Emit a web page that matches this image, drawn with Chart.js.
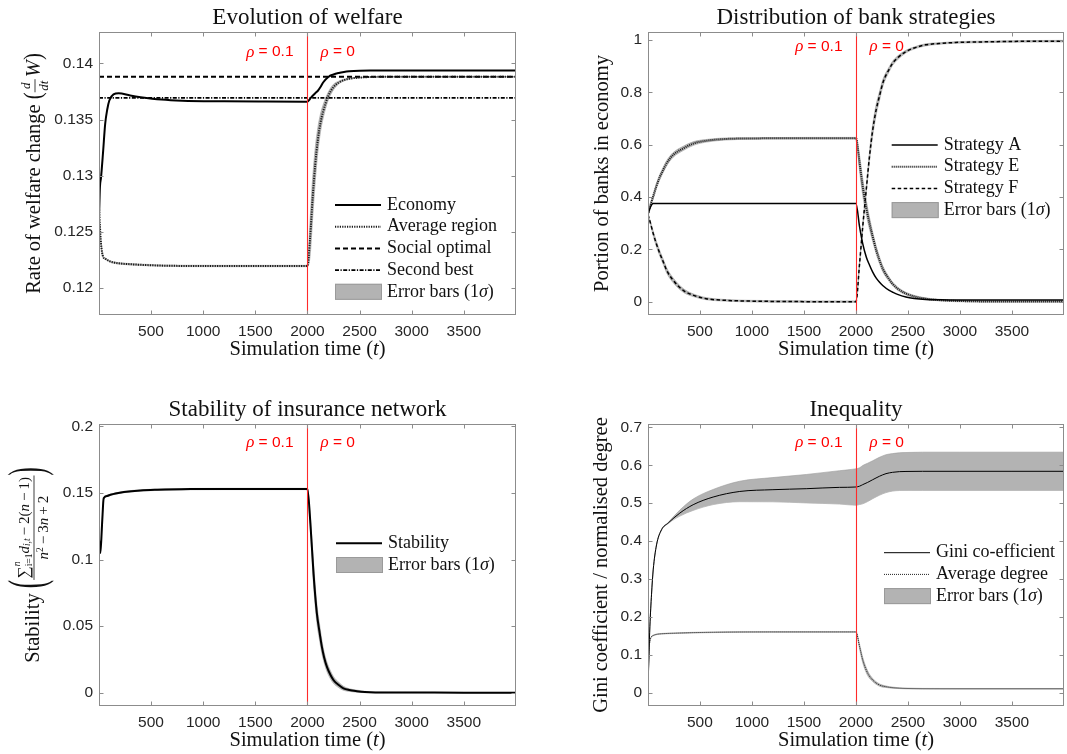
<!DOCTYPE html>
<html>
<head>
<meta charset="utf-8">
<title>Simulation results</title>
<script src="https://cdn.jsdelivr.net/npm/chart.js@4/dist/chart.umd.min.js"></script>
<style>
  html, body { margin: 0; padding: 0; background: #fff; }
  #page { position: relative; width: 1067px; height: 754px; overflow: hidden; }
  #page canvas { position: absolute; }
</style>
</head>
<body>
<div id="page">
  <canvas id="welfare" width="540" height="377" style="left:0;top:0"></canvas>
  <canvas id="strategies" width="527" height="377" style="left:540px;top:0"></canvas>
  <canvas id="stability" width="540" height="377" style="left:0;top:377px"></canvas>
  <canvas id="inequality" width="527" height="377" style="left:540px;top:377px"></canvas>
</div>
<script>
// ---- simulation output ----
const timeTicks = [500, 1000, 1500, 2000, 2500, 3000, 3500];
const horizon = [1, 4000];
const switchTime = 2000;
const rhoValues = [0.1, 0];

// welfare
const welfareTicks = [0.12, 0.125, 0.13, 0.135, 0.14];
const welfareTime = [1, 10, 20, 40, 60, 80, 100, 140, 190, 300, 400, 600, 800, 1200, 1600, 2000,
  2025, 2050, 2075, 2100, 2125, 2150, 2200, 2250, 2300, 2350, 2400, 2500, 2600, 2800, 3200, 3600, 4000];
const economy = [0.1262, 0.1290, 0.1298, 0.1321, 0.1346, 0.1359, 0.1367, 0.13725, 0.13735, 0.13715, 0.13700, 0.13678, 0.13668, 0.13663, 0.13661, 0.13660,
  0.13685, 0.13712, 0.13735, 0.13757, 0.13790, 0.13830, 0.13880, 0.13902, 0.13915, 0.13924, 0.13930, 0.13936, 0.13938, 0.13938, 0.13938, 0.13938, 0.13938];
const averageRegion = [0.1272, 0.1255, 0.1240, 0.1228, 0.12262, 0.1225, 0.1224, 0.12228, 0.1222, 0.12212, 0.12207, 0.122, 0.12197, 0.12196, 0.12196, 0.12196,
  0.1244, 0.1280, 0.1310, 0.1332, 0.1347, 0.1357, 0.1371, 0.1379, 0.1383, 0.13852, 0.13864, 0.13874, 0.13879, 0.13881, 0.13881, 0.13881, 0.13881];
const averageRegionSigma = [0.0003, 0.0003, 0.0002, 0.0001, 0.00006, 0.00006, 0.00006, 0.00006, 0.00006, 0.00006, 0.00006, 0.00006, 0.00006, 0.00006, 0.00006, 0.00006,
  0.0016, 0.0018, 0.0015, 0.0011, 0.0008, 0.0006, 0.00035, 0.00025, 0.00012, 0.00008, 0.00005, 0.00003, 0.00002, 0.00002, 0.00002, 0.00002, 0.00002];
const socialOptimal = 0.13881;
const secondBest = 0.13693;

// bank strategies
const strategyTicks = [0, 0.2, 0.4, 0.6, 0.8, 1];
const strategyTime = [1, 25, 50, 80, 115, 150, 180, 240, 340, 440, 560, 750, 1000, 1200, 1600, 2000,
  2035, 2065, 2100, 2130, 2160, 2195, 2225, 2260, 2320, 2350, 2400, 2480, 2560, 2670, 2800, 2960, 3200, 3500, 4000];
const strategyA = [0.333, 0.362, 0.375, 0.375, 0.375, 0.375, 0.375, 0.375, 0.375, 0.375, 0.375, 0.375, 0.375, 0.375, 0.375, 0.375,
  0.286, 0.222, 0.170, 0.140, 0.114, 0.090, 0.075, 0.061, 0.043, 0.037, 0.028, 0.018, 0.0125, 0.0085, 0.007, 0.006, 0.006, 0.006, 0.006];
const strategyE = [0.333, 0.370, 0.401, 0.440, 0.477, 0.506, 0.529, 0.560, 0.586, 0.605, 0.615, 0.622, 0.624, 0.6245, 0.625, 0.625,
  0.529, 0.439, 0.358, 0.300, 0.250, 0.197, 0.160, 0.124, 0.085, 0.069, 0.050, 0.031, 0.020, 0.0115, 0.006, 0.003, 0.001, 0.0005, 0.0005];
const strategyESigma = [0, 0.006, 0.009, 0.010, 0.010, 0.010, 0.010, 0.009, 0.008, 0.007, 0.005, 0.004, 0.003, 0.003, 0.003, 0.003,
  0.030, 0.032, 0.028, 0.022, 0.018, 0.015, 0.013, 0.011, 0.008, 0.007, 0.006, 0.005, 0.004, 0.003, 0.003, 0.003, 0.003, 0.003, 0.003];
const strategyF = [0.333, 0.300, 0.262, 0.223, 0.184, 0.150, 0.120, 0.083, 0.043, 0.024, 0.0115, 0.005, 0.002, 0.001, 0, 0,
  0.146, 0.286, 0.432, 0.554, 0.653, 0.735, 0.784, 0.838, 0.889, 0.910, 0.932, 0.956, 0.970, 0.982, 0.987, 0.991, 0.993, 0.995, 0.996];
const strategyFSigma = [0, 0.006, 0.009, 0.010, 0.010, 0.010, 0.010, 0.009, 0.007, 0.005, 0.004, 0.003, 0.003, 0.003, 0.003, 0.003,
  0.008, 0.010, 0.012, 0.018, 0.022, 0.020, 0.017, 0.013, 0.009, 0.008, 0.007, 0.005, 0.004, 0.004, 0.003, 0.003, 0.003, 0.003, 0.003];

// network stability
const stabilityTicks = [0, 0.05, 0.1, 0.15, 0.2];
const stabilityTime = [1, 8, 14, 30, 46, 80, 110, 160, 240, 400, 560, 880, 1200, 1600, 2000,
  2026, 2058, 2090, 2115, 2138, 2160, 2186, 2220, 2250, 2300, 2345, 2400, 2475, 2550, 2650, 3000, 3500, 4000];
const stability = [0.115, 0.110, 0.105, 0.126, 0.146, 0.1478, 0.1486, 0.1496, 0.1507, 0.1519, 0.1524, 0.1529, 0.1530, 0.1530, 0.1530,
  0.1299, 0.0898, 0.0597, 0.0460, 0.0346, 0.0265, 0.0196, 0.0135, 0.0095, 0.0058, 0.0033, 0.0020, 0.0011, 0.0005, 0.0002, 0.0001, 0, 0];
const stabilitySigma = [0.0005, 0.0005, 0.0005, 0.0005, 0.0005, 0.0005, 0.0005, 0.0005, 0.0005, 0.0005, 0.0005, 0.0005, 0.0005, 0.0005, 0.0005,
  0.004, 0.008, 0.007, 0.006, 0.005, 0.004, 0.0035, 0.003, 0.0025, 0.002, 0.0015, 0.001, 0.0008, 0.0005, 0.0003, 0.0002, 0.0002, 0.0002];

// inequality
const inequalityTicks = [0, 0.1, 0.2, 0.3, 0.4, 0.5, 0.6, 0.7];
const inequalityTime = [1, 10, 19, 35, 51, 83, 131, 195, 307, 435, 627, 883, 1202, 1522, 1842, 2000,
  2035, 2065, 2113, 2161, 2225, 2289, 2353, 2417, 2481, 2640, 3000, 3500, 4000];
const gini = [0, 0.10, 0.174, 0.26, 0.324, 0.390, 0.430, 0.4477, 0.474, 0.496, 0.5163, 0.531, 0.5357, 0.5383, 0.5418, 0.5428,
  0.545, 0.549, 0.555, 0.562, 0.571, 0.578, 0.5815, 0.5833, 0.5838, 0.5842, 0.5842, 0.5842, 0.5842];
const giniSigma = [0, 0, 0, 0, 0, 0, 0.001, 0.0015, 0.008, 0.015, 0.020, 0.027, 0.032, 0.0375, 0.044, 0.048,
  0.0485, 0.0505, 0.0505, 0.050, 0.050, 0.050, 0.0495, 0.0498, 0.050, 0.0505, 0.0505, 0.0505, 0.0505];
const avgDegree = [0, 0.11, 0.135, 0.148, 0.151, 0.154, 0.1555, 0.1565, 0.1575, 0.1585, 0.1595, 0.1602, 0.1604, 0.1604, 0.1604, 0.1604,
  0.1216, 0.0864, 0.0513, 0.0336, 0.0204, 0.0158, 0.0133, 0.0120, 0.0113, 0.0106, 0.0104, 0.0104, 0.0104];
const avgDegreeSigma = [0.0008, 0.0008, 0.0008, 0.0008, 0.0008, 0.0008, 0.0008, 0.0008, 0.0008, 0.0008, 0.0008, 0.0008, 0.0008, 0.0008, 0.0008, 0.0008,
  0.006, 0.007, 0.006, 0.004, 0.003, 0.002, 0.0015, 0.001, 0.001, 0.0008, 0.0008, 0.0008, 0.0008];

// ---- styling ----
const SERIF = "'Liberation Serif', 'Times New Roman', serif";
const SANS = "'Liberation Sans', Arial, sans-serif";
const TEXT = '#111';
const TICK_COLOR = '#262626';
const AXIS_GREY = '#8c8c8c';
const BAND_FILL = '#b3b3b3';
const BAND_EDGE = '#9a9a9a';
const tickFont = { family: SANS, size: 15.5 };

function points(ts, vs) {
  return ts.map((t, i) => ({ x: t, y: vs[i] }));
}

function line(ts, vs, style) {
  return Object.assign({
    data: points(ts, vs), borderColor: '#000', borderWidth: 1.5,
    pointRadius: 0, fill: false, cubicInterpolationMode: 'monotone', order: 1
  }, style);
}

// mean +/- one standard deviation, filled between the two edges
function band(ts, vs, sigma) {
  const common = { borderColor: BAND_EDGE, borderWidth: 0.6, pointRadius: 0, cubicInterpolationMode: 'monotone', order: 2 };
  return [
    Object.assign({ data: points(ts, vs.map((v, i) => v + sigma[i])), fill: '+1', backgroundColor: BAND_FILL }, common),
    Object.assign({ data: points(ts, vs.map((v, i) => v - sigma[i])), fill: false }, common)
  ];
}

// small text-run renderer for labels with italics, scripts and fractions
function fontOf(r, size) {
  return (r.it ? 'italic ' : '') + (r.size || size) + 'px ' + (r.sans ? SANS : SERIF);
}
function runWidth(ctx, r, size) {
  if (r.num) return Math.max(runsWidth(ctx, r.num, r.size), runsWidth(ctx, r.den, r.size)) + 3;
  if (r.adv !== undefined) return r.adv;
  ctx.font = fontOf(r, size);
  return ctx.measureText(r.t).width * (r.sx || 1);
}
function runsWidth(ctx, runs, size) {
  return runs.reduce((w, r) => w + runWidth(ctx, r, size), 0);
}
function drawRuns(ctx, runs, x, y, size) {
  runs.forEach(r => {
    const w = runWidth(ctx, r, size);
    if (r.num) {
      const nw = runsWidth(ctx, r.num, r.size), dw = runsWidth(ctx, r.den, r.size);
      drawRuns(ctx, r.num, x + (w - nw) / 2, y - r.size * 0.62, r.size);
      drawRuns(ctx, r.den, x + (w - dw) / 2, y + r.size * 0.7, r.size);
      ctx.fillRect(x, y - 0.4, w, 0.8);
    } else {
      ctx.font = fontOf(r, size);
      ctx.save();
      ctx.translate(x, y + (r.dy || 0));
      ctx.scale(r.sx || 1, 1);
      ctx.fillText(r.t, 0, 0);
      ctx.restore();
    }
    x += w;
  });
}

const errorLabel = [{ t: 'Error bars (1' }, { t: 'σ', it: true }, { t: ')' }];
const timeLabel = [{ t: 'Simulation time (' }, { t: 't', it: true }, { t: ')' }];

function makeDecor(cfg) {
  return {
    id: 'panelDecor',
    afterDatasetsDraw(chart) {
      const { ctx, chartArea: a, scales: { x, y } } = chart;
      const cx = (a.left + a.right) / 2, cy = (a.top + a.bottom) / 2;
      ctx.save();
      ctx.textBaseline = 'middle';
      ctx.textAlign = 'left';

      // regime switch
      const sx = Math.round(x.getPixelForValue(switchTime)) + 0.5;
      ctx.strokeStyle = '#ff2a2a';
      ctx.lineWidth = 1.1;
      ctx.beginPath();
      ctx.moveTo(sx, a.top);
      ctx.lineTo(sx, a.bottom);
      ctx.stroke();

      // axes box with inward ticks on all four sides
      const L = Math.round(a.left) + 0.5, R = Math.round(a.right) - 0.5;
      const T = Math.round(a.top) + 0.5, B = Math.round(a.bottom) - 0.5;
      ctx.strokeStyle = AXIS_GREY;
      ctx.lineWidth = 1;
      ctx.strokeRect(L, T, R - L, B - T);
      ctx.beginPath();
      timeTicks.forEach(v => {
        const px = Math.round(x.getPixelForValue(v)) + 0.5;
        ctx.moveTo(px, B); ctx.lineTo(px, B - 4);
        ctx.moveTo(px, T); ctx.lineTo(px, T + 4);
      });
      cfg.yTicks.forEach(v => {
        const py = Math.round(y.getPixelForValue(v)) + 0.5;
        ctx.moveTo(L, py); ctx.lineTo(L + 4, py);
        ctx.moveTo(R, py); ctx.lineTo(R - 4, py);
      });
      ctx.stroke();

      // rho annotations either side of the switch
      ctx.fillStyle = '#ff0000';
      const ry = y.getPixelForValue(cfg.rhoAt);
      const before = [{ t: 'ρ', it: true, size: 17 }, { t: ' = ' + rhoValues[0], sans: true }];
      const after = [{ t: 'ρ', it: true, size: 17 }, { t: ' = ' + rhoValues[1], sans: true }];
      drawRuns(ctx, before, sx - 14 - runsWidth(ctx, before, 15.5), ry, 15.5);
      drawRuns(ctx, after, sx + 13, ry, 15.5);

      // title and axis labels
      ctx.fillStyle = TEXT;
      ctx.font = '23px ' + SERIF;
      ctx.textAlign = 'center';
      ctx.fillText(cfg.title, cx, a.top - 14);
      ctx.textAlign = 'left';
      drawRuns(ctx, timeLabel, cx - runsWidth(ctx, timeLabel, 20.5) / 2, a.bottom + 35, 20.5);

      ctx.save();
      ctx.translate(cfg.yLabelX, cy);
      ctx.rotate(-Math.PI / 2);
      drawRuns(ctx, cfg.yLabel, -runsWidth(ctx, cfg.yLabel, 20.5) / 2, 0, 20.5);
      ctx.restore();

      // legend
      let ly = cfg.legend.y;
      const lx = cfg.legend.x;
      cfg.legend.items.forEach(item => {
        if (item.band) {
          ctx.fillStyle = BAND_FILL;
          ctx.fillRect(lx, ly - 8, 47, 16);
          ctx.strokeStyle = BAND_EDGE;
          ctx.lineWidth = 1;
          ctx.setLineDash([]);
          ctx.strokeRect(lx + 0.5, ly - 7.5, 46, 15);
        } else {
          const ds = chart.data.datasets[item.ds];
          ctx.strokeStyle = ds.borderColor;
          ctx.lineWidth = ds.borderWidth;
          ctx.setLineDash(ds.borderDash || []);
          ctx.beginPath();
          ctx.moveTo(lx, ly);
          ctx.lineTo(lx + 46, ly);
          ctx.stroke();
          ctx.setLineDash([]);
        }
        ctx.fillStyle = TEXT;
        drawRuns(ctx, item.label, lx + 52, ly, 18);
        ly += 21.7;
      });
      ctx.restore();
    }
  };
}

function makePanel(id, cfg) {
  return new Chart(document.getElementById(id), {
    type: 'line',
    data: { datasets: cfg.datasets },
    options: {
      responsive: false,
      animation: false,
      devicePixelRatio: 1,
      events: [],
      layout: { padding: cfg.padding },
      plugins: { legend: { display: false }, tooltip: { enabled: false } },
      scales: {
        x: {
          type: 'linear', min: horizon[0], max: horizon[1],
          grid: { display: false, drawTicks: false },
          border: { display: false },
          ticks: { font: tickFont, color: TICK_COLOR, padding: 7, autoSkip: false, maxRotation: 0, callback: v => String(v) },
          afterBuildTicks: s => { s.ticks = timeTicks.map(v => ({ value: v })); },
          afterFit: s => { s.height = 40; }
        },
        y: {
          type: 'linear', min: cfg.yMin, max: cfg.yMax,
          grid: { display: false, drawTicks: false },
          border: { display: false },
          ticks: { font: tickFont, color: TICK_COLOR, padding: 6, autoSkip: false, callback: v => String(+v.toFixed(3)) },
          afterBuildTicks: s => { s.ticks = cfg.yTicks.map(v => ({ value: v })); },
          afterFit: s => { s.width = 60; }
        }
      }
    },
    plugins: [makeDecor(cfg)]
  });
}

makePanel('welfare', {
  padding: { left: 39, right: 24, top: 32, bottom: 22 },
  yMin: 0.1176, yMax: 0.1428, yTicks: welfareTicks,
  rhoAt: 0.141,
  title: 'Evolution of welfare',
  yLabelX: 35,
  yLabel: [
    { t: 'Rate of welfare change ' },
    { t: '(', size: 26, sx: 0.8, dy: -1 },
    { num: [{ t: 'd', it: true }], den: [{ t: 'dt', it: true }], size: 13 },
    { t: ' ', size: 8 },
    { t: 'W', it: true },
    { t: ')', size: 26, sx: 0.8, dy: -1 }
  ],
  datasets: [
    line(welfareTime, economy, { borderWidth: 2 }),
    line(welfareTime, averageRegion, { borderWidth: 2, borderColor: '#1a1a1a', borderDash: [1.2, 1.2] }),
    line(horizon, [socialOptimal, socialOptimal], { borderWidth: 2, borderDash: [5, 3] }),
    line(horizon, [secondBest, secondBest], { borderWidth: 1.8, borderDash: [4, 1.5, 1.2, 1.5] }),
    ...band(welfareTime, averageRegion, averageRegionSigma)
  ],
  legend: {
    x: 335, y: 205,
    items: [
      { ds: 0, label: [{ t: 'Economy' }] },
      { ds: 1, label: [{ t: 'Average region' }] },
      { ds: 2, label: [{ t: 'Social optimal' }] },
      { ds: 3, label: [{ t: 'Second best' }] },
      { band: true, label: errorLabel }
    ]
  }
});

makePanel('strategies', {
  padding: { left: 48, right: 3, top: 32, bottom: 22 },
  yMin: -0.051, yMax: 1.031, yTicks: strategyTicks,
  rhoAt: 0.975,
  title: 'Distribution of bank strategies',
  yLabelX: 63,
  yLabel: [{ t: 'Portion of banks in economy' }],
  datasets: [
    line(strategyTime, strategyA, { borderWidth: 1.5 }),
    line(strategyTime, strategyE, { borderWidth: 2, borderColor: '#1a1a1a', borderDash: [1, 1] }),
    line(strategyTime, strategyF, { borderWidth: 1.5, borderDash: [3.5, 2.5] }),
    ...band(strategyTime, strategyE, strategyESigma),
    ...band(strategyTime, strategyF, strategyFSigma)
  ],
  legend: {
    x: 351.7, y: 145,
    items: [
      { ds: 0, label: [{ t: 'Strategy A' }] },
      { ds: 1, label: [{ t: 'Strategy E' }] },
      { ds: 2, label: [{ t: 'Strategy F' }] },
      { band: true, label: errorLabel }
    ]
  }
});

makePanel('stability', {
  padding: { left: 39, right: 24, top: 47, bottom: 8 },
  yMin: -0.01, yMax: 0.2018, yTicks: stabilityTicks,
  rhoAt: 0.188,
  title: 'Stability of insurance network',
  yLabelX: 34,
  yLabel: [
    { t: 'Stability ' },
    { t: '(', size: 50, sx: 0.5, dy: -4 },
    {
      size: 15,
      num: [
        { t: '∑', size: 17 },
        { t: 'n', it: true, size: 9.5, dy: -7, adv: 0 },
        { t: 'i=1', size: 9.5, dy: 5 },
        { t: 'd', it: true },
        { t: 'i,t', it: true, size: 9.5, dy: 3 },
        { t: '\u2009−\u20092(' },
        { t: 'n', it: true },
        { t: '\u2009−\u20091)' }
      ],
      den: [
        { t: 'n', it: true },
        { t: '2', size: 9.5, dy: -4 },
        { t: '\u2009−\u20093' },
        { t: 'n', it: true },
        { t: '\u2009+\u20092' }
      ]
    },
    { t: ')', size: 50, sx: 0.5, dy: -4 }
  ],
  datasets: [
    line(stabilityTime, stability, { borderWidth: 2 }),
    ...band(stabilityTime, stability, stabilitySigma)
  ],
  legend: {
    x: 336, y: 166.3,
    items: [
      { ds: 0, label: [{ t: 'Stability' }] },
      { band: true, label: errorLabel }
    ]
  }
});

makePanel('inequality', {
  padding: { left: 48, right: 3, top: 47, bottom: 8 },
  yMin: -0.035, yMax: 0.709, yTicks: inequalityTicks,
  rhoAt: 0.66,
  title: 'Inequality',
  yLabelX: 62,
  yLabel: [{ t: 'Gini coefficient / normalised degree' }],
  datasets: [
    line(inequalityTime, gini, { borderWidth: 1 }),
    line(inequalityTime, avgDegree, { borderWidth: 1, borderColor: '#222', borderDash: [1, 1] }),
    ...band(inequalityTime, gini, giniSigma),
    ...band(inequalityTime, avgDegree, avgDegreeSigma)
  ],
  legend: {
    x: 344, y: 175.7,
    items: [
      { ds: 0, label: [{ t: 'Gini co-efficient' }] },
      { ds: 1, label: [{ t: 'Average degree' }] },
      { band: true, label: errorLabel }
    ]
  }
});
</script>
</body>
</html>
